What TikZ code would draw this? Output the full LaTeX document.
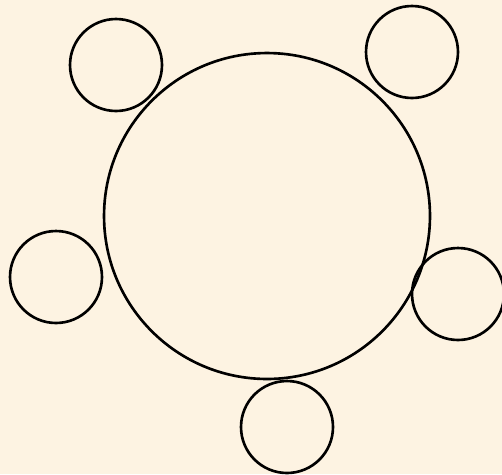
\documentclass[tikz,border=0pt]{standalone}
\usepackage{tikz}
\usepackage{xcolor}
\definecolor{parchment}{HTML}{FDF3E2}

\begin{document}
\begin{tikzpicture}[x=0.02cm, y=-0.02cm,
    ring/.style={draw, circle, inner sep=0pt, line width=1.5pt},
    smallring/.style={ring, minimum size=1.84cm}]
  % Background sheet
  \fill[parchment] (0,0) rectangle (502,474);
  \useasboundingbox (0,0) rectangle (502,474);

  % Central circle
  \node[ring, minimum size=6.52cm] (hub) at (267,216) {};

  % Small circles around it
  \node[smallring] (topleft) at (116,65) {};
  \node[smallring] (topright) at (412,52) {};
  \node[smallring] (left) at (56,277) {};
  \node[smallring] (right) at (458,294) {};
  \node[smallring] (bottom) at (287,427) {};
\end{tikzpicture}
\end{document}
